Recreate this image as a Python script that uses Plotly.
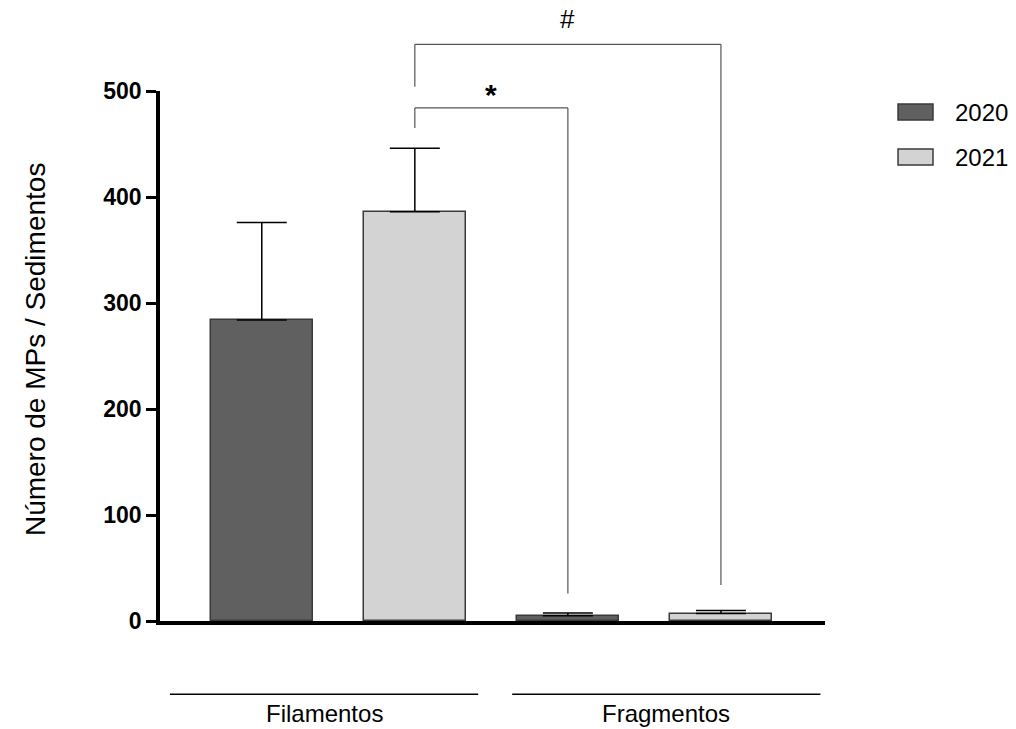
import plotly.graph_objects as go

# ---- data ----
groups = ["Filamentos", "Fragmentos"]
years = ["2020", "2021"]
values_2020 = [284, 5]
values_2021 = [386, 7]
err_2020 = [92, 2.5]
err_2021 = [60, 3]
y_ticks = [0, 100, 200, 300, 400, 500]

# bar slots: group g, year j -> 2*g + j
x_2020 = [0, 2]
x_2021 = [1, 3]

colors = {"2020": "#606060", "2021": "#d3d3d3"}
FONT = "Liberation Sans, Arial, sans-serif"
Y_RANGE = [0, 500]


def yp(v):
    return (v - Y_RANGE[0]) / (Y_RANGE[1] - Y_RANGE[0])


fig = go.Figure()
for name, xs, vals, errs in [("2020", x_2020, values_2020, err_2020),
                             ("2021", x_2021, values_2021, err_2021)]:
    fig.add_trace(go.Bar(
        x=xs, y=vals, name=name, width=0.667,
        marker=dict(color=colors[name], line=dict(color="#3a3a3a", width=1.5)),
        error_y=dict(type="data", symmetric=False, array=errs,
                     color="black", thickness=1.5, width=25),
        showlegend=False,
    ))

shapes = []
ann = []

# significance brackets (x in bar slots, heights in data units)
brackets = [
    dict(x0=1, x1=2, top=484, lb=465, rb=26, label="*", size=30, bold=True, ly=497),
    dict(x0=1, x1=3, top=544, lb=504, rb=34, label="#", size=26, bold=False, ly=568),
]
for b in brackets:
    for (xa, ya, xb, yb) in [(b["x0"], b["lb"], b["x0"], b["top"]),
                             (b["x0"], b["top"], b["x1"], b["top"]),
                             (b["x1"], b["top"], b["x1"], b["rb"])]:
        shapes.append(dict(type="line", xref="x", yref="paper",
                           x0=xa, x1=xb, y0=yp(ya), y1=yp(yb),
                           line=dict(color="#555555", width=1.2)))
    txt = "<b>%s</b>" % b["label"] if b["bold"] else b["label"]
    xc = b["x0"] + 0.5 if b["label"] == "*" else (b["x0"] + b["x1"]) / 2
    ann.append(dict(x=xc, y=yp(b["ly"]), xref="x", yref="paper", text=txt,
                    showarrow=False, xanchor="center", yanchor="middle",
                    font=dict(size=b["size"], color="black", family=FONT)))

# group lines and labels under the axis
group_spans = [(-0.6, 1.414), (1.636, 3.65)]
for g, (a, c) in zip(groups, group_spans):
    shapes.append(dict(type="line", xref="x", yref="paper", x0=a, x1=c,
                       y0=yp(-69), y1=yp(-69), line=dict(color="black", width=1.5)))
    ann.append(dict(x=(a + c) / 2, y=yp(-87), xref="x", yref="paper", text=g,
                    showarrow=False, xanchor="center", yanchor="middle",
                    font=dict(size=24, color="black", family=FONT)))

# legend (custom swatches)
leg = [("2020", 0.9754, 0.9452, 0.9603), ("2021", 0.8904, 0.8602, 0.8754)]
for name, y0, y1, yt in leg:
    shapes.append(dict(type="rect", xref="paper", yref="paper",
                       x0=1.1098, x1=1.1624, y0=y0, y1=y1,
                       fillcolor=colors[name], line=dict(color="#3a3a3a", width=1.5)))
    ann.append(dict(x=1.1925, y=yt, xref="paper", yref="paper", text=name,
                    xanchor="left", yanchor="middle", showarrow=False,
                    font=dict(size=24, color="black", family=FONT)))

# y title
ann.append(dict(x=-0.188, y=0.513, xref="paper", yref="paper",
                text="Número de MPs / Sedimentos", textangle=-90, showarrow=False,
                xanchor="center", yanchor="middle",
                font=dict(size=28, color="black", family=FONT)))

fig.update_layout(
    width=1016, height=729,
    margin=dict(l=160, r=191, t=91, b=108),
    plot_bgcolor="white", paper_bgcolor="white",
    bargap=0, barmode="overlay",
    shapes=shapes, annotations=ann,
    xaxis=dict(range=[-0.665, 3.68], showticklabels=False, ticks="",
               showgrid=False, zeroline=False, showline=True,
               linecolor="black", linewidth=3.5),
    yaxis=dict(range=Y_RANGE, tickvals=y_ticks, ticks="outside", ticklen=10,
               tickwidth=3, tickcolor="black", showgrid=False, zeroline=False,
               showline=True, linecolor="black", linewidth=3.5,
               tickfont=dict(size=23, color="black", family=FONT, weight="bold")),
    font=dict(family=FONT, color="black"),
)

fig.write_html("out.html")
